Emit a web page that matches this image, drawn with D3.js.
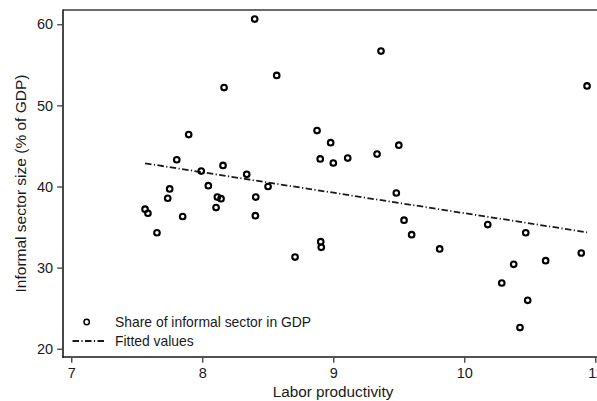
<!DOCTYPE html>
<html>
<head>
<meta charset="utf-8">
<script src="https://cdn.jsdelivr.net/npm/d3@7/dist/d3.min.js"></script>
<style>
  html, body { margin: 0; padding: 0; background: #fff; }
  svg { display: block; font-family: "Liberation Sans", Arial, sans-serif; }
</style>
</head>
<body>
<svg id="chart" width="597" height="401"></svg>
<script>
// Labor productivity (log) for each country
const productivity = [
  7.563, 7.585, 7.654, 7.736, 7.751, 7.805, 7.850, 7.896, 7.992, 8.046,
  8.105, 8.115, 8.143, 8.158, 8.166, 8.339, 8.400, 8.408, 8.405, 8.502,
  8.568, 8.708, 8.876, 8.900, 8.904, 8.908, 8.980, 9.000, 9.110, 9.334,
  9.364, 9.500, 9.481, 9.540, 9.598, 9.812, 10.179, 10.286, 10.377, 10.469,
  10.425, 10.484, 10.621, 10.893, 10.937
];
// Share of informal sector in GDP (%)
const informalShare = [
  37.2, 36.7, 34.3, 38.55, 39.7, 43.3, 36.3, 46.4, 41.9, 40.1,
  37.4, 38.7, 38.5, 42.6, 52.2, 41.5, 60.65, 38.7, 36.4, 40.0,
  53.7, 31.3, 46.9, 43.4, 33.2, 32.5, 45.4, 42.9, 43.5, 44.0,
  56.7, 45.1, 39.2, 35.85, 34.06, 32.3, 35.3, 28.1, 30.4, 34.3,
  22.6, 25.97, 30.85, 31.8, 52.4
];
// Linear fit, evaluated at the ends of the productivity range
const fitX = [7.563, 10.937];
const fitY = [42.86, 34.35];

const xTicks = [7, 8, 9, 10, 11];
const yTicks = [20, 30, 40, 50, 60];

const svg = d3.select("#chart");
const ink = "#1a1a1a";

const x = d3.scaleLinear().domain([7, 11]).range([71.3, 595.3]);
const y = d3.scaleLinear().domain([20, 60]).range([348.7, 24.3]);

const plotLeft = 63, plotTop = 10, plotBottom = 357, plotRight = 610;

// plot region border (top) and axis lines
svg.append("line")
  .attr("x1", plotLeft).attr("x2", plotRight)
  .attr("y1", plotTop).attr("y2", plotTop)
  .attr("stroke", "#3a3a3a").attr("stroke-width", 1.3);
svg.append("line")
  .attr("x1", plotLeft).attr("x2", plotLeft)
  .attr("y1", plotTop - 0.6).attr("y2", plotBottom + 0.8)
  .attr("stroke", ink).attr("stroke-width", 1.6);
svg.append("line")
  .attr("x1", plotLeft - 0.8).attr("x2", plotRight)
  .attr("y1", plotBottom).attr("y2", plotBottom)
  .attr("stroke", ink).attr("stroke-width", 1.6);

// axes
const yAxis = d3.axisLeft(y).tickValues(yTicks).tickSize(5).tickPadding(4).tickFormat(d3.format("d"));
const gy = svg.append("g").attr("transform", `translate(${plotLeft - 0.8},0)`).call(yAxis);
gy.select(".domain").remove();

const xAxis = d3.axisBottom(x).tickValues(xTicks).tickSize(5).tickPadding(5).tickFormat(d3.format("d"));
const gx = svg.append("g").attr("transform", `translate(0,${plotBottom + 0.8})`).call(xAxis);
gx.select(".domain").remove();

[gx, gy].forEach(g => {
  g.selectAll("line").attr("stroke", ink).attr("stroke-width", 1.1);
  g.selectAll("text").attr("fill", ink).style("font-size", "14.5px")
    .style("font-family", "\"Liberation Sans\", Arial, sans-serif");
});

// axis titles
svg.append("text")
  .attr("x", 333).attr("y", 397)
  .attr("text-anchor", "middle")
  .attr("fill", ink).style("font-size", "15.3px")
  .text("Labor productivity");
svg.append("text")
  .attr("transform", `translate(26,${(plotTop + plotBottom) / 2}) rotate(-90)`)
  .attr("text-anchor", "middle")
  .attr("fill", ink).style("font-size", "15.5px")
  .text("Informal sector size (% of GDP)");

// fitted line
const dashDot = "6.5,2.4,1.2,2.4";
svg.append("path")
  .datum(fitX.map((d, i) => [d, fitY[i]]))
  .attr("d", d3.line().x(d => x(d[0])).y(d => y(d[1])))
  .attr("fill", "none").attr("stroke", ink)
  .attr("stroke-width", 1.8).attr("stroke-dasharray", dashDot);

// scatter points
svg.append("g").selectAll("circle")
  .data(productivity.map((d, i) => [d, informalShare[i]]))
  .join("circle")
  .attr("cx", d => x(d[0])).attr("cy", d => y(d[1]))
  .attr("r", 2.8)
  .attr("fill", "none").attr("stroke", "#000").attr("stroke-width", 2.1);

// legend
const legend = svg.append("g");
legend.append("circle")
  .attr("cx", 86.7).attr("cy", 322).attr("r", 2.7)
  .attr("fill", "none").attr("stroke", "#000").attr("stroke-width", 1.5);
legend.append("text")
  .attr("x", 115).attr("y", 326.5)
  .attr("fill", ink).style("font-size", "13.9px")
  .text("Share of informal sector in GDP");
legend.append("line")
  .attr("x1", 72.5).attr("x2", 104).attr("y1", 341).attr("y2", 341)
  .attr("stroke", ink).attr("stroke-width", 1.8).attr("stroke-dasharray", dashDot);
legend.append("text")
  .attr("x", 115).attr("y", 345.5)
  .attr("fill", ink).style("font-size", "13.9px")
  .text("Fitted values");
</script>
</body>
</html>
